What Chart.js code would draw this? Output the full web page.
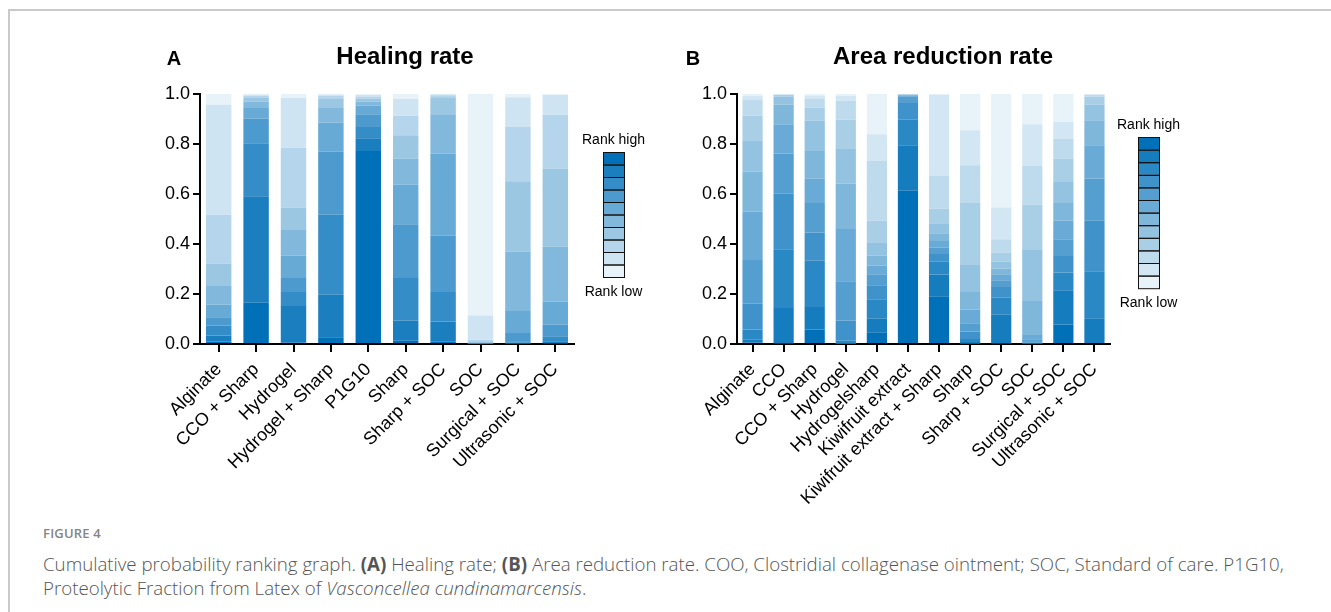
<!DOCTYPE html>
<html>
<head>
<meta charset="utf-8">
<script src="https://cdn.jsdelivr.net/npm/chart.js@4"></script>
<style>
  body { margin: 0; background: #fff; width: 1331px; height: 612px; overflow: hidden; position: relative; }
  .frame { position: absolute; left: 8px; top: 9px; right: 0; bottom: 0; border-top: 2px solid #c9c9c9; border-left: 2px solid #c9c9c9; }
  #panelA { position: absolute; left: 0; top: 0; }
  #panelB { position: absolute; left: 665px; top: 0; }
  .caption { position: absolute; left: 43px; top: 524px; font-family: "Open Sans", sans-serif; color: #555; }
  .caption .fig { font-size: 13px; font-weight: 600; color: #858585; letter-spacing: 0.2px; margin-bottom: 10px; }
  .caption .txt { font-size: 18.7px; line-height: 24px; font-weight: 300; }
  .caption b { font-weight: 700; }
</style>
</head>
<body>
<div class="frame"></div>
<div class="caption">
  <div class="fig">FIGURE 4</div>
  <div class="txt">Cumulative probability ranking graph. <b>(A)</b> Healing rate; <b>(B)</b> Area reduction rate. COO, Clostridial collagenase ointment; SOC, Standard of care. P1G10,<br>Proteolytic Fraction from Latex of <i>Vasconcellea cundinamarcensis</i>.</div>
</div>
<canvas id="panelA" width="665" height="510"></canvas>
<canvas id="panelB" width="666" height="510"></canvas>
<script>
// Panel A: healing rate, probability of each rank (1 = best) per treatment
const healingLabels = ['Alginate', 'CCO + Sharp', 'Hydrogel', 'Hydrogel + Sharp', 'P1G10', 'Sharp', 'Sharp + SOC', 'SOC', 'Surgical + SOC', 'Ultrasonic + SOC'];
const healingProb = [
    [0.010, 0.024, 0.040, 0.033, 0.051, 0.074, 0.090, 0.195, 0.440, 0.043], // Alginate
    [0.165, 0.426, 0.212, 0.098, 0.043, 0.026, 0.014, 0.009, 0.005, 0.002], // CCO + Sharp
    [0.005, 0.147, 0.056, 0.056, 0.089, 0.103, 0.090, 0.239, 0.199, 0.016], // Hydrogel
    [0.027, 0.170, 0.320, 0.252, 0.117, 0.058, 0.036, 0.013, 0.005, 0.002], // Hydrogel + Sharp
    [0.772, 0.051, 0.045, 0.051, 0.034, 0.017, 0.012, 0.008, 0.006, 0.004], // P1G10
    [0.013, 0.081, 0.170, 0.215, 0.159, 0.104, 0.093, 0.078, 0.067, 0.020], // Sharp
    [0.009, 0.081, 0.118, 0.226, 0.327, 0.158, 0.068, 0.008, 0.004, 0.001], // Sharp + SOC
    [0.000, 0.000, 0.001, 0.001, 0.002, 0.003, 0.004, 0.006, 0.097, 0.886], // SOC
    [0.002, 0.004, 0.005, 0.033, 0.088, 0.237, 0.282, 0.217, 0.119, 0.013], // Surgical + SOC
    [0.003, 0.008, 0.020, 0.046, 0.093, 0.219, 0.313, 0.215, 0.080, 0.003]  // Ultrasonic + SOC
];

// Panel B: area reduction rate
const areaLabels = ['Alginate', 'CCO', 'CCO + Sharp', 'Hydrogel', 'Hydrogelsharp', 'Kiwifruit extract', 'Kiwifruit extract + Sharp', 'Sharp', 'Sharp + SOC', 'SOC', 'Surgical + SOC', 'Ultrasonic + SOC'];
const areaProb = [
    [0.005, 0.012, 0.041, 0.103, 0.175, 0.194, 0.159, 0.126, 0.098, 0.063, 0.016, 0.008], // Alginate
    [0.003, 0.141, 0.235, 0.222, 0.161, 0.117, 0.078, 0.032, 0.007, 0.002, 0.001, 0.001], // CCO
    [0.058, 0.090, 0.185, 0.113, 0.118, 0.098, 0.110, 0.121, 0.053, 0.034, 0.014, 0.006], // CCO + Sharp
    [0.001, 0.003, 0.009, 0.081, 0.157, 0.209, 0.182, 0.141, 0.114, 0.076, 0.019, 0.008], // Hydrogel
    [0.047, 0.054, 0.078, 0.056, 0.044, 0.034, 0.040, 0.054, 0.086, 0.241, 0.105, 0.161], // Hydrogelsharp
    [0.613, 0.182, 0.102, 0.067, 0.027, 0.004, 0.002, 0.001, 0.001, 0.001, 0.000, 0.000], // Kiwifruit extract
    [0.191, 0.087, 0.051, 0.031, 0.025, 0.027, 0.031, 0.040, 0.058, 0.133, 0.323, 0.003], // Kiwifruit extract + Sharp
    [0.002, 0.006, 0.012, 0.030, 0.033, 0.055, 0.070, 0.111, 0.245, 0.151, 0.140, 0.145], // Sharp
    [0.003, 0.114, 0.068, 0.043, 0.027, 0.024, 0.022, 0.028, 0.037, 0.053, 0.127, 0.454], // Sharp + SOC
    [0.001, 0.002, 0.003, 0.005, 0.008, 0.017, 0.136, 0.204, 0.181, 0.157, 0.165, 0.121], // SOC
    [0.078, 0.137, 0.071, 0.066, 0.067, 0.074, 0.071, 0.084, 0.094, 0.080, 0.067, 0.111], // Surgical + SOC
    [0.004, 0.099, 0.188, 0.202, 0.169, 0.133, 0.100, 0.062, 0.032, 0.007, 0.003, 0.001]  // Ultrasonic + SOC
];

const yTicks = [0, 0.2, 0.4, 0.6, 0.8, 1.0];

const FONT = '"Liberation Sans", Arial, sans-serif';

// blue ramp, rank 1 darkest
function rankColors(n) {
    const dark = [0, 112, 184], light = [232, 242, 249];
    const out = [];
    for (let i = 0; i < n; i++) {
        const t = i / (n - 1);
        const c = dark.map((d, k) => Math.round(d + (light[k] - d) * t));
        out.push(`rgb(${c[0]}, ${c[1]}, ${c[2]})`);
    }
    return out;
}

// the "Rank high / Rank low" key next to each panel
const rankKey = {
    id: 'rankKey',
    afterDraw(chart, args, opts) {
        const ctx = chart.ctx;
        const x = chart.chartArea.right + opts.gap;
        const w = opts.width, h = opts.boxH, top = opts.top;
        ctx.save();
        ctx.font = '14px ' + FONT;
        ctx.fillStyle = '#000';
        ctx.textAlign = 'center';
        ctx.textBaseline = 'middle';
        ctx.fillText('Rank high', x + w / 2, top - 12);
        opts.colors.forEach((c, i) => {
            ctx.fillStyle = c;
            ctx.fillRect(x, top + i * h, w, h);
        });
        ctx.strokeStyle = '#111';
        ctx.lineWidth = 1;
        opts.colors.forEach((c, i) => {
            ctx.strokeRect(x + 0.5, top + i * h + 0.5, w, h);
        });
        ctx.fillStyle = '#000';
        ctx.fillText('Rank low', x + w / 2, top + opts.colors.length * h + 15);
        ctx.restore();
    }
};

const panelTitle = {
    id: 'panelTitle',
    afterDraw(chart, args, opts) {
        const ctx = chart.ctx;
        ctx.save();
        ctx.fillStyle = '#000';
        ctx.textBaseline = 'middle';
        ctx.textAlign = 'center';
        ctx.font = 'bold 20px ' + FONT;
        ctx.fillText(opts.letter, opts.letterX, 59);
        ctx.font = 'bold 24px ' + FONT;
        ctx.fillText(opts.text, opts.textX, 57);
        ctx.restore();
    }
};

function makePanel(id, labels, prob, opt) {
    const nRanks = prob[0].length;
    const colors = rankColors(nRanks);
    const datasets = [];
    for (let r = 0; r < nRanks; r++) {
        datasets.push({
            label: 'Rank ' + (r + 1),
            data: prob.map(row => row[r]),
            backgroundColor: colors[r],
            borderWidth: 0,
            barPercentage: opt.barPct,
            categoryPercentage: 1
        });
    }

    return new Chart(document.getElementById(id), {
        type: 'bar',
        data: { labels: labels, datasets: datasets },
        plugins: [rankKey, panelTitle],
        options: {
            responsive: false,
            animation: false,
            layout: { padding: opt.padding },
            plugins: {
                legend: { display: false },
                tooltip: { enabled: false },
                rankKey: { colors: colors, gap: opt.keyGap, width: 21, top: opt.keyTop, boxH: opt.keyBoxH },
                panelTitle: opt.title
            },
            scales: {
                x: {
                    stacked: true,
                    afterFit: s => { s.height = 166; },
                    grid: { offset: false, drawOnChartArea: false, tickLength: 8, color: '#000', lineWidth: 2 },
                    border: { color: '#000', width: 2 },
                    ticks: {
                        autoSkip: false, minRotation: 45, maxRotation: 45, padding: 7,
                        color: '#000', font: { family: FONT, size: 18 }
                    }
                },
                y: {
                    stacked: true,
                    min: 0,
                    max: 1,
                    afterFit: s => { s.width = 50; },
                    afterBuildTicks: s => { s.ticks = yTicks.map(v => ({ value: v })); },
                    grid: { drawOnChartArea: false, tickLength: 7, color: '#000', lineWidth: 2 },
                    border: { color: '#000', width: 2 },
                    ticks: {
                        padding: 3, color: '#000', font: { family: FONT, size: 18 },
                        callback: v => Number(v).toFixed(1)
                    }
                }
            }
        }
    });
}

makePanel('panelA', healingLabels, healingProb, {
    barPct: 0.68,
    padding: { left: 150, right: 91, top: 94, bottom: 0 },
    keyGap: 29, keyTop: 152, keyBoxH: 12.5,
    title: { letter: 'A', letterX: 174, text: 'Healing rate', textX: 405 }
});

makePanel('panelB', areaLabels, areaProb, {
    barPct: 0.65,
    padding: { left: 22, right: 221, top: 94, bottom: 0 },
    keyGap: 28, keyTop: 137, keyBoxH: 12.6,
    title: { letter: 'B', letterX: 28, text: 'Area reduction rate', textX: 278 }
});
</script>
</body>
</html>
